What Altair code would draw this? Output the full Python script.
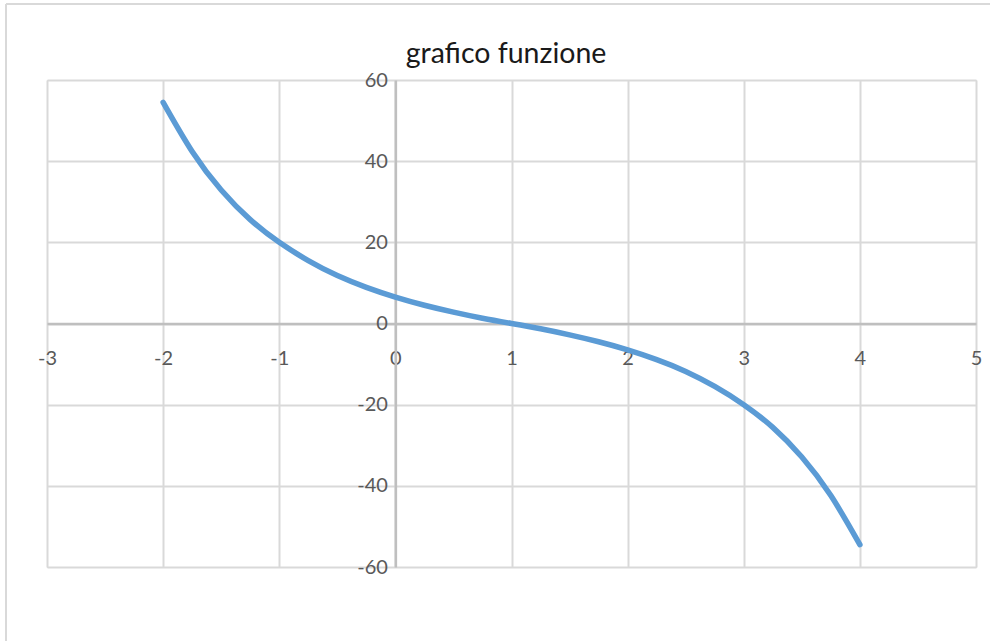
import altair as alt
import pandas as pd

# Values
x_values = [-2.0, -1.75, -1.5, -1.25, -1.0, -0.75, -0.5, -0.25, 0.0, 0.25, 0.5, 0.75,
            1.0, 1.25, 1.5, 1.75, 2.0, 2.25, 2.5, 2.75, 3.0, 3.25, 3.5, 3.75, 4.0]
y_values = [54.5, 42.4, 32.9, 25.6, 20.0, 15.5, 11.8, 8.9, 6.5, 4.5, 2.8, 1.3,
            0.0, -1.3, -2.8, -4.5, -6.5, -8.9, -11.8, -15.5, -20.0, -25.6, -32.9, -42.4, -54.5]
x_ticks = [-3, -2, -1, 0, 1, 2, 3, 4, 5]
y_ticks = [-60, -40, -20, 0, 20, 40, 60]
title_text = ["grafico funzione"]

df = pd.DataFrame({"x": x_values, "y": y_values})
title_df = pd.DataFrame({"t": title_text})

W, H = 929, 487
FONT = "Lato"
GRID = "#D9D9D9"
AXIS = "#BFBFBF"
LABEL = "#595959"

xscale = alt.Scale(domain=[x_ticks[0], x_ticks[-1]], nice=False, zero=False)
yscale = alt.Scale(domain=[y_ticks[0], y_ticks[-1]], nice=False, zero=False)

x_off = -H * (0 - y_ticks[0]) / (y_ticks[-1] - y_ticks[0])
y_off = -W * (0 - x_ticks[0]) / (x_ticks[-1] - x_ticks[0])

grid = alt.Chart(df).mark_line(opacity=0).encode(
    x=alt.X("x:Q", scale=xscale, title=None,
            axis=alt.Axis(orient="top", values=x_ticks, grid=True, gridColor=GRID,
                          gridWidth=2, labels=False, ticks=False, domain=False)),
    y=alt.Y("y:Q", scale=yscale, title=None,
            axis=alt.Axis(orient="right", values=y_ticks, grid=True, gridColor=GRID,
                          gridWidth=2, labels=False, ticks=False, domain=False)),
)

axes = alt.Chart(df).mark_line(opacity=0).encode(
    x=alt.X("x:Q", scale=xscale, title=None,
            axis=alt.Axis(orient="bottom", values=x_ticks, grid=False, ticks=False,
                          domain=True, domainColor=AXIS, domainWidth=2.5, offset=x_off,
                          labelPadding=25, labelFont=FONT, labelFontSize=20,
                          labelColor=LABEL, labelOverlap=False, labelFlush=False,
                          labelBound=False, labelExpr="'' + datum.value")),
    y=alt.Y("y:Q", scale=yscale, title=None,
            axis=alt.Axis(orient="left", values=y_ticks, grid=False, ticks=False,
                          domain=True, domainColor=AXIS, domainWidth=2.5, offset=y_off,
                          labelPadding=8, labelFont=FONT, labelFontSize=20,
                          labelColor=LABEL, labelOverlap=False, labelFlush=False,
                          labelBound=False, labelExpr="'' + datum.value")),
)

line = alt.Chart(df).mark_line(color="#5B9BD5", strokeWidth=5.5, strokeCap="round",
                               strokeJoin="round", interpolate="natural").encode(
    x=alt.X("x:Q", scale=xscale, axis=None),
    y=alt.Y("y:Q", scale=yscale, axis=None),
)

frame_top = alt.Chart(df).mark_rule(color=GRID, strokeWidth=2).encode(
    x=alt.value(-41), x2=alt.value(W + 20), y=alt.value(-76))
frame_left = alt.Chart(df).mark_rule(color=GRID, strokeWidth=2).encode(
    x=alt.value(-41), y=alt.value(-76), y2=alt.value(H + 80))

title = alt.Chart(title_df).mark_text(
    font=FONT, fontSize=28.5, color="#1A1A1A", align="center", baseline="alphabetic"
).encode(text="t:N", x=alt.value(459), y=alt.value(-17))

chart = alt.layer(frame_top, frame_left, grid, axes, line, title).resolve_axis(
    x="independent", y="independent"
).properties(
    width=W, height=H,
    autosize=alt.AutoSizeParams(type="none"),
    padding={"left": 47, "top": 80, "right": 14, "bottom": 74},
).configure_view(stroke=None).configure(background="white")

chart.save("out.html", embed_options={"renderer": "svg", "actions": False})
